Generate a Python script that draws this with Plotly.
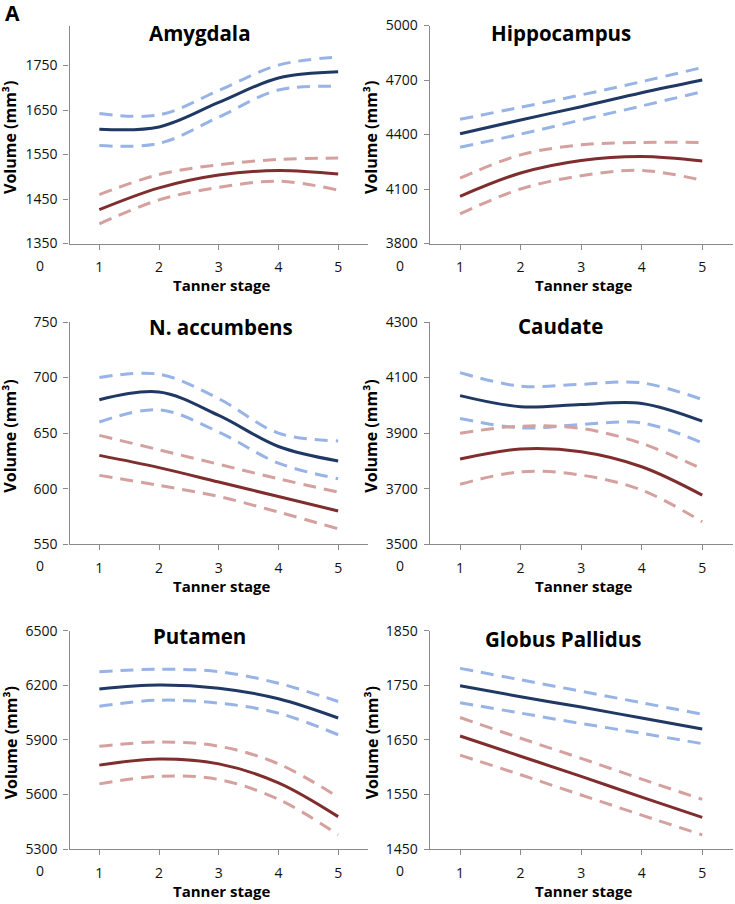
import plotly.graph_objects as go

# ---------------- data ----------------
stages = [1, 2, 3, 4, 5]
x_tick_labels = ["0", "1", "2", "3", "4", "5"]
panel_titles = ["Amygdala", "Hippocampus", "N. accumbens", "Caudate", "Putamen", "Globus Pallidus"]

amyg_blue = [1607, 1612, 1667, 1722, 1736]
amyg_blue_hi = [1642, 1639, 1694, 1751, 1769]
amyg_blue_lo = [1570, 1575, 1634, 1695, 1703]
amyg_red = [1426, 1475, 1504, 1514, 1506]
amyg_red_hi = [1460, 1505, 1527, 1539, 1542]
amyg_red_lo = [1394, 1448, 1476, 1490, 1470]

hippo_blue = [4404, 4480, 4553, 4630, 4700]
hippo_blue_hi = [4484, 4550, 4618, 4691, 4769]
hippo_blue_lo = [4330, 4402, 4480, 4557, 4636]
hippo_red = [4060, 4188, 4257, 4279, 4254]
hippo_red_hi = [4160, 4288, 4343, 4356, 4356]
hippo_red_lo = [3963, 4100, 4173, 4202, 4148]

nacc_blue = [680, 687, 666, 638, 625]
nacc_blue_hi = [700, 703, 681, 650, 643]
nacc_blue_lo = [660, 671, 651, 623, 609]
nacc_red = [630, 619, 606, 593, 580]
nacc_red_hi = [648, 635, 622, 609, 597]
nacc_red_lo = [612, 603, 593, 579, 564]

caud_blue = [4035, 3995, 4003, 4007, 3943]
caud_blue_hi = [4118, 4069, 4076, 4081, 4021]
caud_blue_lo = [3953, 3919, 3931, 3937, 3865]
caud_red = [3807, 3843, 3833, 3779, 3677]
caud_red_hi = [3900, 3925, 3917, 3863, 3771]
caud_red_lo = [3716, 3761, 3749, 3695, 3581]

put_blue = [6180, 6202, 6184, 6126, 6020]
put_blue_hi = [6275, 6288, 6275, 6211, 6111]
put_blue_lo = [6085, 6118, 6102, 6047, 5928]
put_red = [5761, 5795, 5768, 5664, 5478]
put_red_hi = [5865, 5888, 5865, 5768, 5585]
put_red_lo = [5658, 5700, 5682, 5573, 5378]

gp_blue = [1749, 1729, 1710, 1690, 1670]
gp_blue_hi = [1781, 1760, 1739, 1718, 1697]
gp_blue_lo = [1718, 1699, 1680, 1662, 1643]
gp_red = [1657, 1620, 1583, 1545, 1508]
gp_red_hi = [1691, 1653, 1616, 1578, 1541]
gp_red_lo = [1622, 1586, 1549, 1512, 1476]

y_ranges = [[1350, 1840], [3800, 5000], [550, 750], [3500, 4300], [5300, 6500], [1450, 1850]]
y_tick_values = [
    [1350, 1450, 1550, 1650, 1750],
    [3800, 4100, 4400, 4700, 5000],
    [550, 600, 650, 700, 750],
    [3500, 3700, 3900, 4100, 4300],
    [5300, 5600, 5900, 6200, 6500],
    [1450, 1550, 1650, 1750, 1850],
]
x_range = [0.5, 5.5]

panels = [
    (amyg_blue, amyg_blue_hi, amyg_blue_lo, amyg_red, amyg_red_hi, amyg_red_lo),
    (hippo_blue, hippo_blue_hi, hippo_blue_lo, hippo_red, hippo_red_hi, hippo_red_lo),
    (nacc_blue, nacc_blue_hi, nacc_blue_lo, nacc_red, nacc_red_hi, nacc_red_lo),
    (caud_blue, caud_blue_hi, caud_blue_lo, caud_red, caud_red_hi, caud_red_lo),
    (put_blue, put_blue_hi, put_blue_lo, put_red, put_red_hi, put_red_lo),
    (gp_blue, gp_blue_hi, gp_blue_lo, gp_red, gp_red_hi, gp_red_lo),
]

# ---------------- style / layout ----------------
W, H = 735, 904
FONT = "Open Sans"
NAVY = "#1f3864"
MAROON = "#7f2d2d"
LBLUE = "#98b4e6"
LRED = "#d4a19f"
AXIS = "#8a8a8a"
DASH = "13px,8px"
TICK_SIZE = 14
TITLE_SIZE = 20.5

col_px = [(69.5, 368.0), (429.8, 732.5)]
row_px = [(25.5, 243.5), (322.0, 544.3), (630.7, 849.0)]
title_px = [(200, 33), (561, 33), (221, 327), (560, 326), (199, 636), (563, 639)]
ylab_px = [10.5, 371.5]


def px_x(p):
    return p / W


def px_y(p):
    return 1 - p / H


fig = go.Figure()
layout = dict(
    width=W, height=H, autosize=False,
    margin=dict(l=0, r=0, t=0, b=0, pad=0, autoexpand=False),
    paper_bgcolor="white", plot_bgcolor="white",
    showlegend=False,
    font=dict(family=FONT, color="#111111"),
)
annotations = []

for i, series in enumerate(panels):
    n = i + 1
    row, col = divmod(i, 2)
    xa = "x" if n == 1 else f"x{n}"
    ya = "y" if n == 1 else f"y{n}"
    blue, blue_hi, blue_lo, red, red_hi, red_lo = series
    styles = [
        (blue_hi, LBLUE, "dash"), (blue_lo, LBLUE, "dash"),
        (red_hi, LRED, "dash"), (red_lo, LRED, "dash"),
        (blue, NAVY, "solid"), (red, MAROON, "solid"),
    ]
    for vals, color, dash in styles:
        fig.add_trace(go.Scatter(
            x=stages, y=vals, mode="lines", xaxis=xa, yaxis=ya,
            line=dict(color=color, width=3, shape="spline", smoothing=1,
                      dash=DASH if dash == "dash" else "solid"),
            hoverinfo="skip",
        ))
    x0, x1 = col_px[col]
    yt, yb = row_px[row]
    layout["xaxis" if n == 1 else f"xaxis{n}"] = dict(
        domain=[px_x(x0), px_x(x1)], range=x_range, anchor=ya, automargin=False,
        showgrid=False, zeroline=False, showline=True, linecolor=AXIS, linewidth=1.3,
        ticks="outside", ticklen=5, tickcolor=AXIS, tickwidth=1.3,
        tickvals=stages, ticktext=x_tick_labels[1:],
        ticklabelstandoff=6,
        tickfont=dict(family=FONT, size=TICK_SIZE, color="#111111"),
        fixedrange=True,
    )
    layout["yaxis" if n == 1 else f"yaxis{n}"] = dict(
        domain=[px_y(yb), px_y(yt)], range=y_ranges[i], anchor=xa, automargin=False,
        showgrid=False, zeroline=False, showline=True, linecolor=AXIS, linewidth=1.3,
        ticks="outside", ticklen=5, tickcolor=AXIS, tickwidth=1.3,
        tickvals=y_tick_values[i], ticktext=[str(v) for v in y_tick_values[i]],
        ticklabelstandoff=3,
        tickfont=dict(family=FONT, size=TICK_SIZE, color="#111111"),
        fixedrange=True,
    )
    # "0" label at the origin of the Tanner-stage axis (x = 0 mapped through the axis scale)
    x_zero = 0
    px_per_unit = (x1 - x0) / (x_range[1] - x_range[0])
    zero_px = x0 + (x_zero - x_range[0]) * px_per_unit
    annotations.append(dict(
        x=px_x(zero_px), xref="paper", y=px_y(yb + 21.5), yref="paper", text=x_tick_labels[0],
        showarrow=False, xanchor="center", yanchor="middle",
        font=dict(family=FONT, size=TICK_SIZE, color="#111111"),
    ))
    # panel title
    tx, ty = title_px[i]
    annotations.append(dict(
        x=px_x(tx), y=px_y(ty), xref="paper", yref="paper", text=f"<b>{panel_titles[i]}</b>",
        showarrow=False, xanchor="center", yanchor="middle",
        font=dict(family=FONT, size=TITLE_SIZE, color="black"),
    ))
    # x axis title
    annotations.append(dict(
        x=px_x((x0 + x1) / 2 + 3), y=px_y(yb + 41.5), xref="paper", yref="paper",
        text="<b>Tanner stage</b>", showarrow=False, xanchor="center", yanchor="middle",
        font=dict(family=FONT, size=15, color="black"),
    ))
    # y axis title
    annotations.append(dict(
        x=px_x(ylab_px[col]), y=px_y((yt + yb) / 2 + 3), xref="paper", yref="paper",
        text="<b>Volume (mm³)</b>", showarrow=False, textangle=-90,
        xanchor="center", yanchor="middle",
        font=dict(family=FONT, size=16, color="black"),
    ))

annotations.append(dict(
    x=px_x(12.5), y=px_y(13.5), xref="paper", yref="paper", text="<b>A</b>",
    showarrow=False, xanchor="center", yanchor="middle",
    font=dict(family=FONT, size=21, color="black"),
))
layout["annotations"] = annotations
fig.update_layout(**layout)

page_fix = (
    "var s='margin:0;padding:0;overflow:hidden;width:735px;height:904px;';"
    "document.documentElement.style.cssText=s;"
    "document.body.style.cssText=s;"
    "var d=document.getElementById('{plot_id}');"
    "d.style.position='absolute';d.style.left='0px';d.style.top='0px';"
)
fig.write_html("out.html", config={"displayModeBar": False}, post_script=page_fix)
